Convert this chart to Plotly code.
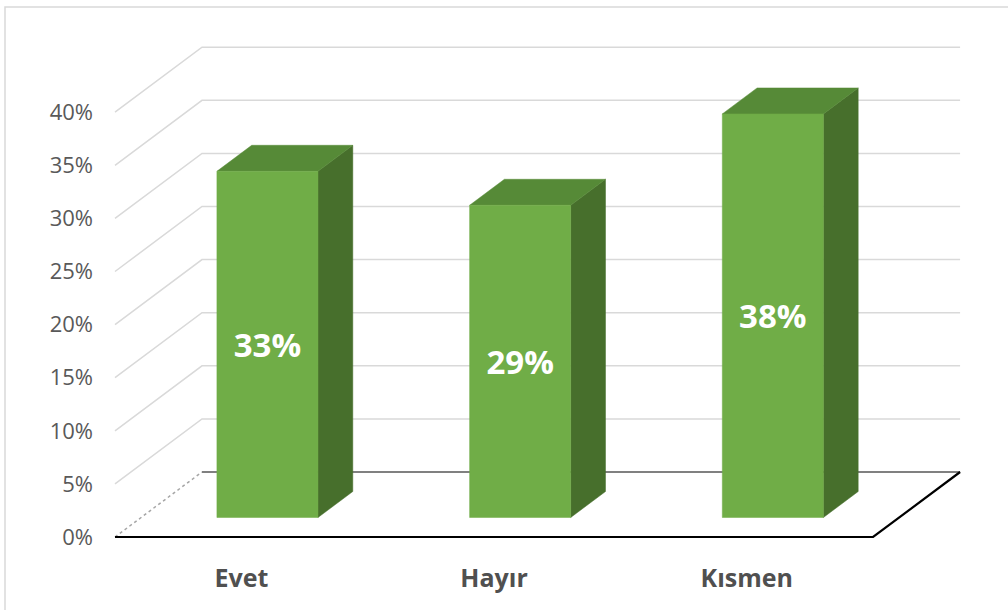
import plotly.graph_objects as go

# ---- data ----
categories = ["Evet", "Hayır", "Kısmen"]
values = [32.6, 29.4, 38.0]          # percent
tick_values = [0, 5, 10, 15, 20, 25, 30, 35, 40]
tick_labels = [f"{t}%" for t in tick_values]

# ---- style / geometry (oblique 3D projection) ----
W, H = 1008, 610
ML, MB = 100, 55
PX_X = 252.7     # px per category unit
PX_Y = 10.62     # px per percent
FRONT_X0 = 115   # px of category 0 on the front plane
ZERO_Y = 537     # px of 0% on the front plane
DX = 87 / PX_X   # depth vector in data units
DY = 65 / PX_Y
D0, D1 = 0.3, 0.7
BAR_W = 0.40
LABEL_SHIFT = -0.4
C_FRONT, C_TOP, C_SIDE = "#70AD47", "#568A37", "#476F2C"
GRID = "#D9D9D9"

x_range = [(ML - FRONT_X0) / PX_X, (W - FRONT_X0) / PX_X]
y_range = [-(H - MB - ZERO_Y) / PX_Y, ZERO_Y / PX_Y]
ncat = len(categories)

fig = go.Figure()

def line(xs, ys, color, width, dash="solid"):
    fig.add_trace(go.Scatter(x=xs, y=ys, mode="lines",
                             line=dict(color=color, width=width, dash=dash),
                             hoverinfo="skip", showlegend=False))

def poly(xs, ys, color):
    fig.add_trace(go.Scatter(x=xs + [xs[0]], y=ys + [ys[0]], mode="lines",
                             fill="toself", fillcolor=color,
                             line=dict(color=color, width=0.5),
                             hoverinfo="skip", showlegend=False))

# gridlines: left wall + back wall
for t in tick_values:
    if t == 0:
        continue
    line([0, DX, ncat + DX], [t, t + DY, t + DY], GRID, 1.5)

# floor
line([0, DX], [0, DY], "#A6A6A6", 1.5, "dot")
line([DX, ncat + DX], [DY, DY], "#808080", 2)
line([0, ncat, ncat + DX], [0, 0, DY], "#000000", 2.2)

# bars
for i, v in enumerate(values):
    c = i + 0.5
    xl, xr = c - BAR_W / 2, c + BAR_W / 2
    # side face
    poly([xr + D0 * DX, xr + D1 * DX, xr + D1 * DX, xr + D0 * DX],
         [D0 * DY, D1 * DY, v + D1 * DY, v + D0 * DY], C_SIDE)
    # top face
    poly([xl + D0 * DX, xr + D0 * DX, xr + D1 * DX, xl + D1 * DX],
         [v + D0 * DY, v + D0 * DY, v + D1 * DY, v + D1 * DY], C_TOP)
    # front face
    poly([xl + D0 * DX, xr + D0 * DX, xr + D0 * DX, xl + D0 * DX],
         [D0 * DY, D0 * DY, v + D0 * DY, v + D0 * DY], C_FRONT)

# data labels
fig.add_trace(go.Scatter(
    x=[i + 0.5 + D0 * DX for i in range(ncat)],
    y=[v / 2 + D0 * DY + LABEL_SHIFT for v in values],
    mode="text",
    text=[f"{v:.0f}%" for v in values],
    textfont=dict(family="Open Sans", size=33, color="white", weight="bold"),
    hoverinfo="skip", showlegend=False))

fig.update_layout(
    width=W, height=H,
    margin=dict(l=ML, r=0, t=0, b=MB),
    plot_bgcolor="white", paper_bgcolor="white",
    xaxis=dict(range=x_range, showgrid=False, zeroline=False, showline=False,
               tickvals=[i + 0.5 for i in range(ncat)], ticktext=categories,
               ticks="", ticklabelstandoff=6,
               tickfont=dict(family="Open Sans", size=25, color="#505050", weight="bold"),
               fixedrange=True),
    yaxis=dict(range=y_range, showgrid=False, zeroline=False, showline=False,
               tickvals=tick_values, ticktext=tick_labels, ticks="",
               ticklabelstandoff=6,
               tickfont=dict(family="Open Sans", size=22, color="#595959"),
               fixedrange=True),
    shapes=[dict(type="rect", xref="paper", yref="paper",
                 x0=(5 - ML) / (W - ML), x1=1.02,
                 y0=-0.2, y1=(H - MB - 7) / (H - MB),
                 line=dict(color="#D9D9D9", width=1.5), layer="below")],
)

fig.write_html("out.html", config={"displayModeBar": False},
               post_script="document.body.style.margin='0px';")
